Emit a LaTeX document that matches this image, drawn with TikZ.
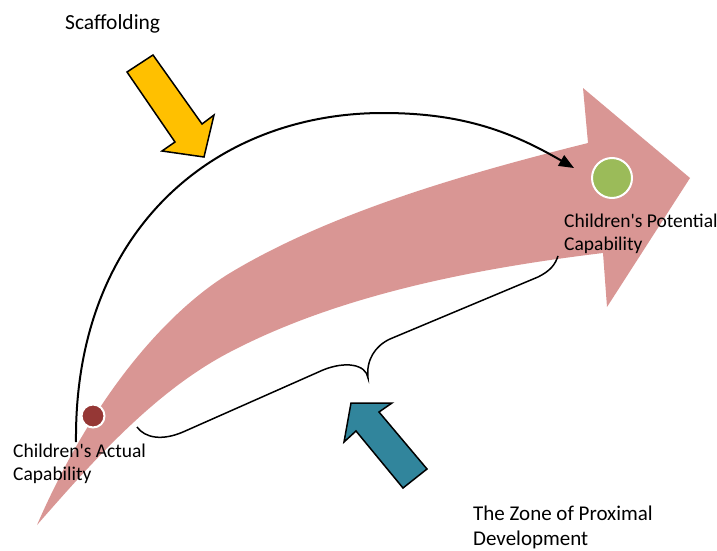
\documentclass[tikz,border=0pt]{standalone}
\usepackage{fontspec}
\setmainfont{Carlito}
\usetikzlibrary{arrows.meta}
\definecolor{pinkarrow}{HTML}{D99694}
\definecolor{actualdot}{HTML}{953735}
\definecolor{potentialdot}{HTML}{9BBB59}
\definecolor{scaffold}{HTML}{FFC000}
\definecolor{zpd}{HTML}{31859C}
\tikzset{
  blockarrow/.style={draw=black, line width=1.5pt, line join=miter},
  label/.style={inner sep=0pt, anchor=base west, align=left, text=black},
  dotstyle/.style={circle, draw=white, line width=2pt, inner sep=0pt},
}
\begin{document}
\begin{tikzpicture}[x=1pt,y=-1pt]
\useasboundingbox (0,0) rectangle (717,551);

% growth arrow: curved shaft and head
\fill[pinkarrow]
  (37,525) .. controls (105,369) and (187,299) .. (230,273)
  .. controls (333,211) and (472,172) .. (588,143)
  -- (583,88) -- (690,178) -- (607,307) -- (603,253)
  .. controls (479,268) and (341,294) .. (230,352)
  .. controls (155,391) and (93,461) .. (37,525)
  -- cycle;

% development points
\node[dotstyle, fill=actualdot, minimum size=23pt] (actual) at (93,416) {};
\node[dotstyle, fill=potentialdot, minimum size=40pt] (potential) at (612,178) {};
\coordinate (arcstart) at (76,442);
\coordinate (arctop) at (383,113);
\coordinate (arcend) at (574,168);

% scaffolding arc
\draw[line width=2pt, -{Triangle[length=15pt,width=12pt]}]
  (arcstart) .. controls (74,230) and (215,113) .. (arctop)
  .. controls (463,113) and (512,132) .. (arcend);

% zone brace
\coordinate (bl) at (137,427);
\coordinate (bm) at (368,378);
\coordinate (br) at (558,256);
\draw[line width=1.5pt]
  (bl) .. controls (145,438) and (162,441) .. (183,432) -- (323,370)
  .. controls (345,361) and (366,364) .. (bm)
  .. controls (366,360) and (375,346) .. (390,339) -- (538,277)
  .. controls (550,271) and (555,265) .. (br);

% block arrows
\draw[blockarrow, fill=scaffold] (127,72) -- (153,55) -- (202,124) -- (214,115) -- (204,157) -- (162,151) -- (175,142) -- cycle;
\draw[blockarrow, fill=zpd] (351,403) -- (392,403) -- (379,412) -- (427,469) -- (403,488) -- (356,431) -- (344,442) -- cycle;

% labels
\node[label, font=\fontsize{21.5}{25}\selectfont] (scaf) at (65,30) {Scaffolding};
\node[label, font=\fontsize{21}{25}\selectfont] (zone) at (473,545) {The Zone of Proximal\\Development};
\node[label, font=\fontsize{19.5}{23}\selectfont] (actlab) at (13,480) {Children\textquotesingle s Actual\\Capability};
\node[label, font=\fontsize{19.5}{23}\selectfont] (potlab) at (564,250) {Children\textquotesingle s Potential\\Capability};
\end{tikzpicture}
\end{document}
